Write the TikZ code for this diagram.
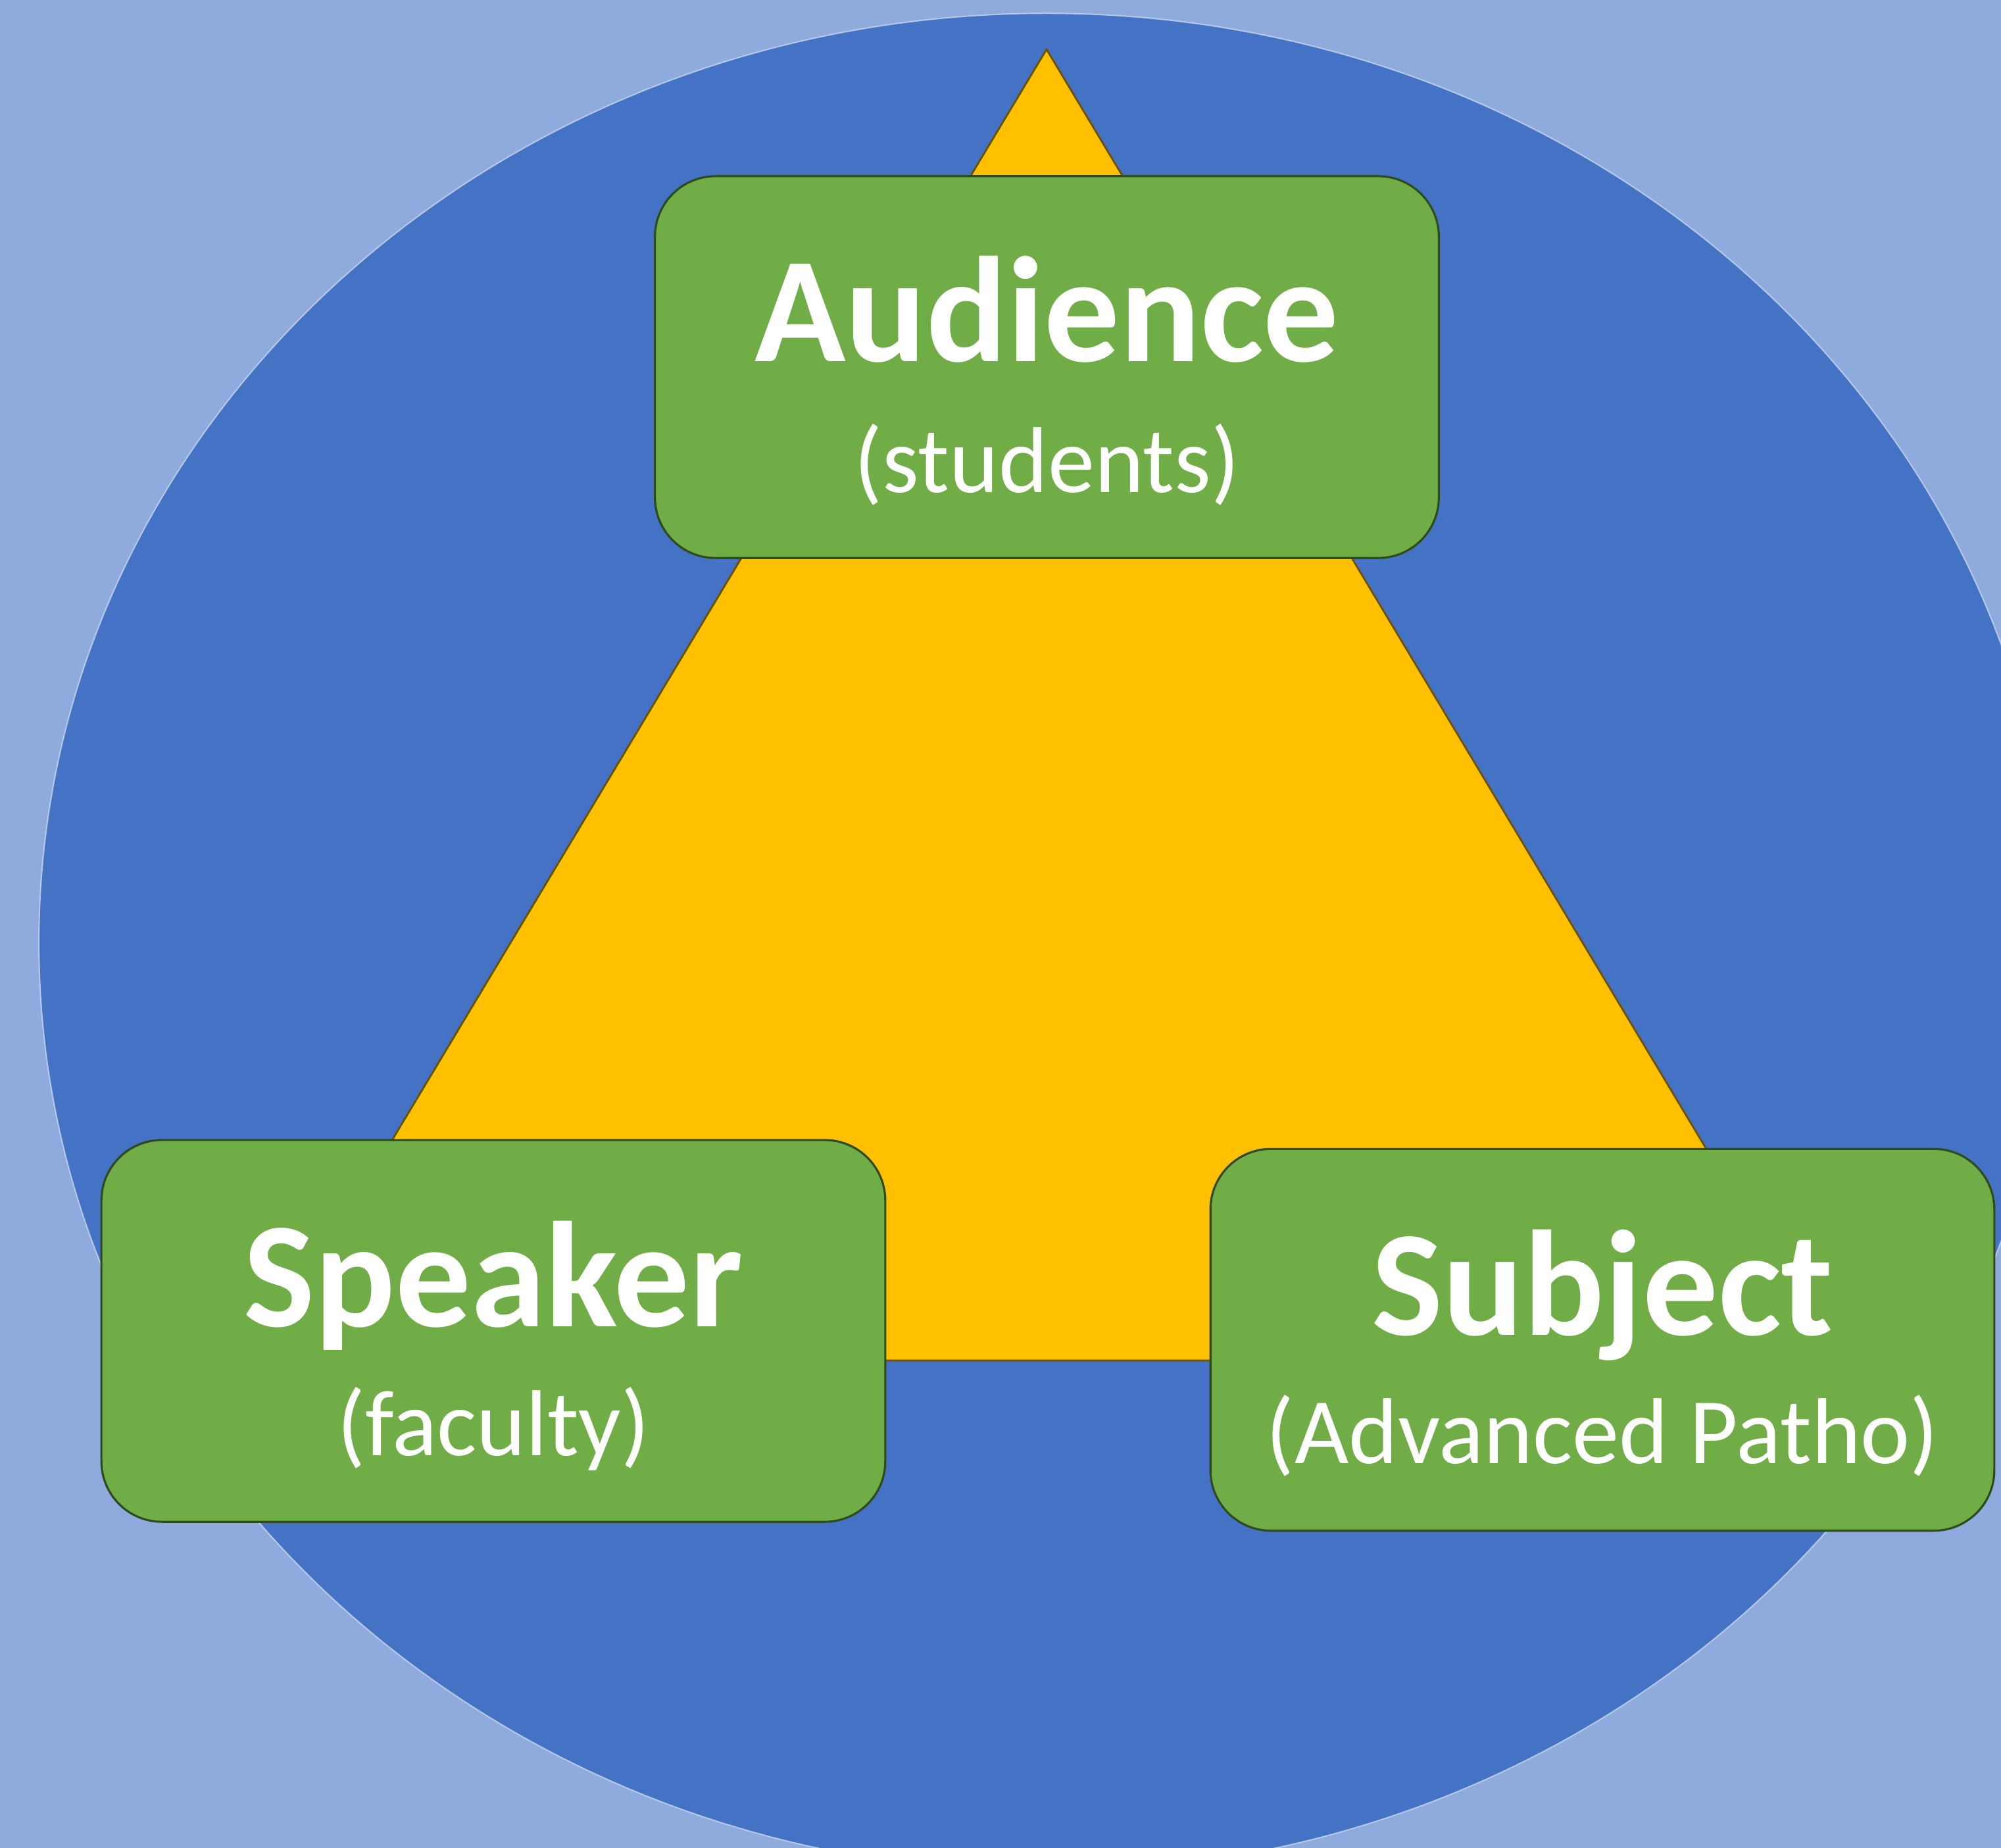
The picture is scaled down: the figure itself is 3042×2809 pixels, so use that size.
\documentclass[tikz,border=0pt]{standalone}
\usepackage{fontspec}
\setmainfont{Carlito}
\usetikzlibrary{calc}
\definecolor{pagebg}{HTML}{8FAADC}
\definecolor{ringblue}{HTML}{4472C4}
\definecolor{ringedge}{HTML}{B4C7E7}
\definecolor{triyellow}{HTML}{FFC000}
\definecolor{triedge}{HTML}{6B5200}
\definecolor{boxgreen}{HTML}{70AD47}
\definecolor{boxedge}{HTML}{2F4A1C}
\tikzset{
  rolebox/.style={draw=boxedge, line width=0.9pt, fill=boxgreen, rounded corners=0.92cm,
    minimum width=11.91cm, minimum height=5.80cm, inner sep=0pt},
  roletitle/.style={anchor=base, text=white, inner sep=0pt,
    font=\fontsize{65}{78}\selectfont\bfseries},
  rolenote/.style={anchor=base, text=white, inner sep=0pt,
    font=\fontsize{40.5}{48}\selectfont},
}
\begin{document}
\begin{tikzpicture}[x=0.01cm, y=-0.01cm]
  % page
  \useasboundingbox (0,0) rectangle (3042,2809);
  \clip (0,0) rectangle (3042,2809);
  \fill[pagebg] (0,0) rectangle (3042,2809);

  % outer ring
  \draw[ringedge, line width=0.6pt, fill=ringblue]
    (1591,1433) ellipse [x radius=15.31cm, y radius=14.12cm];

  % triangle linking the three roles
  \draw[triedge, line width=0.8pt, fill=triyellow, line join=miter]
    (1591,75) -- (2787,2068) -- (395,2068) -- cycle;

  % role boxes
  \node[rolebox] (aud) at (1591.5,558) {};
  \node[rolebox] (spk) at (750,2023) {};
  \node[rolebox] (sub) at (2436,2036.5) {};

  % labels
  \node[roletitle] (audT) at ($(aud.center)+(0,-9)$) {Audience};
  \node[rolenote]  (audS) at ($(aud.center)+(0,190)$) {(students)};
  \node[roletitle] (spkT) at ($(spk.center)+(0,-7)$) {Speaker};
  \node[rolenote]  (spkS) at ($(spk.center)+(0,189)$) {(faculty)};
  \node[roletitle] (subT) at ($(sub.center)+(0,-7)$) {Subject};
  \node[rolenote]  (subS) at ($(sub.center)+(0,188)$) {(Advanced Patho)};
\end{tikzpicture}
\end{document}
